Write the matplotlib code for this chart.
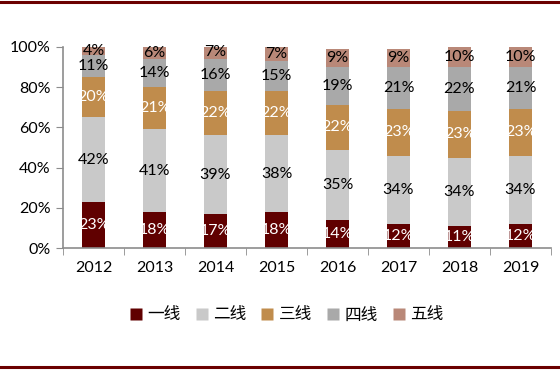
#!/usr/bin/env python
# coding: utf-8

"""Stacked share of city tiers, 2012-2019"""

import matplotlib.pyplot as pl
import numpy as np
from matplotlib.lines import Line2D

pl.switch_backend("agg")
pl.rcParams["font.family"] = ["Lato", "Noto Sans CJK SC", "DejaVu Sans"]

years = ["2012", "2013", "2014", "2015", "2016", "2017", "2018", "2019"]
tiers = ["一线", "二线", "三线", "四线", "五线"]
tier1 = [23, 18, 17, 18, 14, 12, 11, 12]
tier2 = [42, 41, 39, 38, 35, 34, 34, 34]
tier3 = [20, 21, 22, 22, 22, 23, 23, 23]
tier4 = [11, 14, 16, 15, 19, 21, 22, 21]
tier5 = [4, 6, 7, 7, 9, 9, 10, 10]

series = [tier1, tier2, tier3, tier4, tier5]
colors = ["#600000", "#C9C9C9", "#C08C4C", "#A9A9A9", "#B98878"]
text_colors = ["white", "black", "white", "black", "black"]

fig = pl.figure(figsize=(5.6, 3.7), dpi=100)
ax = fig.add_axes([63 / 560, 1 - 248 / 370, 488 / 560, 201 / 370])

x = np.arange(len(years))
bottom = np.zeros(len(years))
for vals, col, tcol in zip(series, colors, text_colors):
    vals = np.array(vals, dtype=float)
    ax.bar(x, vals, width=0.39, bottom=bottom, color=col, edgecolor="none")
    for xi, b, v in zip(x, bottom, vals):
        ax.text(xi, b + v / 2, f"{int(v)}%", ha="center", va="center",
                fontsize=11.5, color=tcol)
    bottom += vals

ax.set_xlim(-0.5, len(years) - 0.5)
ax.set_ylim(0, 100)
ax.set_yticks(np.arange(0, 101, 20))
ax.set_yticklabels([f"{v}%" for v in range(0, 101, 20)], fontsize=11.5)
ax.set_xticks(x)
ax.set_xticklabels(years, fontsize=11.5)
ax.set_xticks(np.arange(-0.5, len(years), 1), minor=True)
ax.tick_params(axis="x", which="major", length=0, pad=9)
ax.tick_params(axis="x", which="minor", length=5, color="#8C8C8C", direction="out")
ax.tick_params(axis="y", length=5, color="#8C8C8C", direction="out", pad=4)
for s in ["top", "right"]:
    ax.spines[s].set_visible(False)
for s in ["left", "bottom"]:
    ax.spines[s].set_color("#8C8C8C")
    ax.spines[s].set_linewidth(1.2)

handles = [
    Line2D([], [], marker="s", linestyle="none", markersize=8,
           markerfacecolor=c, markeredgecolor="none")
    for c in colors
]
fig.legend(handles, tiers, loc="center", bbox_to_anchor=(0.51, 1 - 315 / 370),
           ncol=5, frameon=False, handletextpad=0.2,
           columnspacing=0.75, handlelength=1.0,
           prop={"family": ["Noto Sans CJK SC"], "size": 12})

# dark red rules at top and bottom of the figure
fig.add_artist(Line2D([0, 1], [1 - 2 / 370, 1 - 2 / 370], color="#6B0000", lw=2.2))
fig.add_artist(Line2D([0, 1], [1 - 367 / 370, 1 - 367 / 370], color="#6B0000", lw=2.2))

fig.savefig("out.png")
pl.close()
